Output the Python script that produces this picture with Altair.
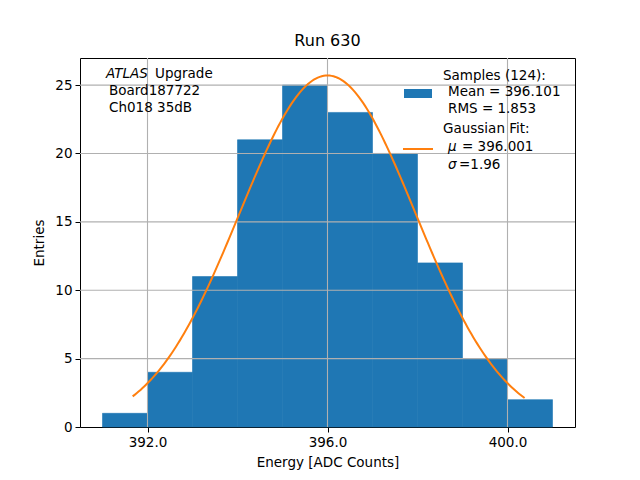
import altair as alt
import pandas as pd
import numpy as np

# Histogram data
bin_start = [391, 392, 393, 394, 395, 396, 397, 398, 399, 400]
bin_end = [392, 393, 394, 395, 396, 397, 398, 399, 400, 401]
counts = [1, 4, 11, 21, 25, 23, 20, 12, 5, 2]

# Gaussian fit parameters (from legend / picture)
fit_mu = 396.001
fit_sigma = 1.96
fit_amp = 25.7
fit_xmin = 391.67
fit_xmax = 400.38

x_ticks = [392, 396, 400]
y_ticks = [0, 5, 10, 15, 20, 25]

FONT = "DejaVu Sans"
BLUE = "#1f77b4"
ORANGE = "#ff7f0e"

hist = pd.DataFrame({"start": bin_start, "end": bin_end, "count": counts})
xs = np.linspace(fit_xmin, fit_xmax, 200)
fit = pd.DataFrame({"start": xs, "count": fit_amp * np.exp(-(xs - fit_mu) ** 2 / (2 * fit_sigma ** 2))})

xscale = alt.Scale(domain=[390.5, 401.5], nice=False, zero=False)
yscale = alt.Scale(domain=[0, 26.98], nice=False, zero=False)

xaxis = alt.Axis(values=x_ticks, format=".1f", grid=False, title="Energy [ADC Counts]",
                 tickColor="black", domain=False, labelFontSize=13.5, titleFontSize=13.5,
                 labelColor="black", titleColor="black", titleFontWeight="normal",
                 tickSize=5, labelPadding=3, titlePadding=7, labelFont=FONT, titleFont=FONT)
yaxis = alt.Axis(values=y_ticks, grid=False, title="Entries",
                 tickColor="black", domain=False, labelFontSize=13.5, titleFontSize=13.5,
                 labelColor="black", titleColor="black", titleFontWeight="normal",
                 tickSize=5, labelPadding=3, titlePadding=8, labelFont=FONT, titleFont=FONT)

X = alt.X("start:Q", scale=xscale, axis=xaxis)
Y = alt.Y("count:Q", scale=yscale, axis=yaxis)

bars = alt.Chart(hist).mark_rect(color=BLUE, stroke=BLUE, strokeWidth=0.6, opacity=1).encode(
    x=X, x2="end:Q", y=Y, y2=alt.datum(0),
)

xgrid = alt.Chart(pd.DataFrame({"start": x_ticks})).mark_rule(color="#b0b0b0", strokeWidth=1.1).encode(
    x=X
)
ygrid = alt.Chart(pd.DataFrame({"count": y_ticks[1:]})).mark_rule(color="#b0b0b0", strokeWidth=1.1).encode(
    y=Y
)

line = alt.Chart(fit).mark_line(color=ORANGE, strokeWidth=2).encode(x=X, y=Y)

# Annotations (view coordinates: page minus (80, 58))
def txt(s, x, y, style="normal"):
    return alt.Chart(pd.DataFrame({"t": [s]})).mark_text(
        align="left", baseline="middle", font=FONT, fontSize=13.5, fontStyle=style, color="black"
    ).encode(x=alt.value(x), y=alt.value(y), text="t:N")

ann = [
    txt("ATLAS", 26, 16, "italic"),
    txt("Upgrade", 75, 16),
    txt("Board187722", 29, 33),
    txt("Ch018 35dB", 29, 50),
    txt("Samples (124):", 363, 18),
    txt("Mean = 396.101", 368, 34),
    txt("RMS = 1.853", 368, 51),
    txt("Gaussian Fit:", 363, 71),
    txt("μ", 368, 89, "italic"),
    txt("= 396.001", 382, 89),
    txt("σ", 368, 107, "italic"),
    txt("=1.96", 379, 107),
]

swatch = alt.Chart(pd.DataFrame({"a": [0]})).mark_rect(color=BLUE).encode(
    x=alt.value(324), x2=alt.value(352), y=alt.value(31), y2=alt.value(40)
)
lswatch = alt.Chart(pd.DataFrame({"a": [0]})).mark_rule(color=ORANGE, strokeWidth=2).encode(
    x=alt.value(323), x2=alt.value(353), y=alt.value(91)
)

chart = alt.layer(bars, xgrid, ygrid, line, swatch, lswatch, *ann).properties(
    width=495, height=369,
    title=alt.TitleParams("Run 630", font=FONT, fontSize=16, fontWeight="normal", color="black", offset=8),
    autosize=alt.AutoSizeParams(type="none"),
    padding={"left": 72, "top": 50, "right": 57, "bottom": 45},
    background="white",
).configure_view(stroke="black", strokeWidth=1)

chart.save("out.html", embed_options={"renderer": "svg", "actions": False})
